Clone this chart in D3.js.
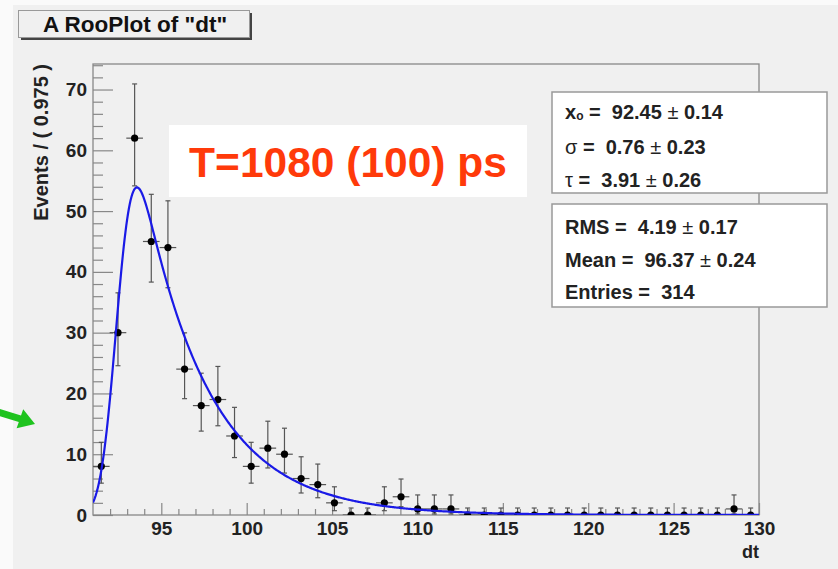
<!DOCTYPE html>
<html><head><meta charset="utf-8">
<script src="https://cdn.jsdelivr.net/npm/d3@7"></script>
<style>
body{margin:0;background:#fafafa;}
svg{display:block;font-family:"Liberation Sans",Arial,Helvetica,sans-serif;}
text{white-space:pre;}
</style>
</head><body>
<svg id="c" width="838" height="569"></svg>
<script>
// ---- data ----
const binCenters = [91.4875,92.4625,93.4375,94.4125,95.3875,96.3625,97.3375,98.3125,99.2875,100.2625,
  101.2375,102.2125,103.1875,104.1625,105.1375,106.1125,107.0875,108.0625,109.0375,110.0125,
  110.9875,111.9625,112.9375,113.9125,114.8875,115.8625,116.8375,117.8125,118.7875,119.7625,
  120.7375,121.7125,122.6875,123.6625,124.6375,125.6125,126.5875,127.5625,128.5375,129.5125];
const counts = [8,30,62,45,44,24,18,19,13,8,11,10,6,5,2,0,0,2,3,1,1,1,0,0,0,0,0,0,0,0,0,0,0,0,0,0,0,0,1,0];
const errLo = [2.76,5.44,7.85,6.68,6.61,4.86,4.20,4.32,3.55,2.76,3.26,3.10,2.38,2.16,1.29,0,0,1.29,1.63,0.83,0.83,0.83,0,0,0,0,0,0,0,0,0,0,0,0,0,0,0,0,0.83,0];
const errHi = [3.96,6.55,8.92,7.76,7.69,5.97,5.33,5.44,4.71,3.96,4.43,4.28,3.58,3.38,2.64,1.15,1.15,2.64,2.92,2.30,2.30,2.30,1.15,1.15,1.15,1.15,1.15,1.15,1.15,1.15,1.15,1.15,1.15,1.15,1.15,1.15,1.15,1.15,2.30,1.15];
const binWidth = 0.975;
const xRange = [91, 130];
const yRange = [0, 74.2];
const xTickValues = [95,100,105,110,115,120,125,130];
const yTickValues = [0,10,20,30,40,50,60,70];
// fit parameters (Gaussian (x) decay model)
const fitNames = ["x0","sigma","tau"];
const fitValues = [92.45, 0.76, 3.91];
const fitErrors = [0.14, 0.23, 0.26];
const nEntries = 314;
const statLabels = ["RMS","Mean","Entries"];
const statValues = ["4.19","96.37","314"];
const statErrors = ["0.17","0.24",null];
const titleText = 'A RooPlot of "dt"';
const xTitle = "dt";
const yTitle = "Events / ( 0.975 )";
const noteText = "T=1080 (100) ps";

// ---- drawing ----
const svg = d3.select("#c");
const W = 838, H = 569;
const F = {l:93, r:759, t:64, b:515};
const x = d3.scaleLinear().domain(xRange).range([F.l, F.r]);
const y = d3.scaleLinear().domain(yRange).range([F.b, F.t]);

svg.append("rect").attr("x",13).attr("y",5).attr("width",W-13).attr("height",H-5).attr("fill","#f0f0f0");

// decorative green arrow (from the original slide)
svg.append("path")
  .attr("d","M-0.9,408.7 L21,415.5 L23.2,409.3 L35,424 L16.6,428.3 L18.8,422.1 L-3.1,415.3 Z")
  .attr("fill","#1ec31e");

// title box
svg.append("rect").attr("x",21).attr("y",13).attr("width",231).attr("height",27).attr("fill","#444");
svg.append("rect").attr("x",18.5).attr("y",10.5).attr("width",231).attr("height",27)
  .attr("fill","#f0f0f0").attr("stroke","#999").attr("stroke-width",1);
svg.append("text").attr("x",135).attr("y",24.5).attr("text-anchor","middle")
  .attr("dominant-baseline","central").attr("font-size",22.5).attr("font-weight","bold")
  .attr("fill","#111").text(titleText);

// axes ticks
const tickCol = "#888";
const yMinor = d3.range(0, 74.2, 2).filter(v => v % 10 !== 0);
const xMinor = d3.range(92, 130, 1).filter(v => v % 5 !== 0);

const gy = svg.append("g").attr("transform",`translate(${F.l},0)`)
  .call(d3.axisLeft(y).tickValues(yTickValues).tickSize(-20).tickSizeOuter(0).tickPadding(6).tickFormat(d3.format("d")));
const gym = svg.append("g").attr("transform",`translate(${F.l},0)`)
  .call(d3.axisLeft(y).tickValues(yMinor).tickSize(-10).tickSizeOuter(0).tickFormat(""));
const gx = svg.append("g").attr("transform",`translate(0,${F.b})`)
  .call(d3.axisBottom(x).tickValues(xTickValues).tickSize(-12).tickSizeOuter(0).tickPadding(7).tickFormat(d3.format("d")));
const gxm = svg.append("g").attr("transform",`translate(0,${F.b})`)
  .call(d3.axisBottom(x).tickValues(xMinor).tickSize(-6).tickSizeOuter(0).tickFormat(""));
[gy,gym,gx,gxm].forEach(g => {
  g.select(".domain").remove();
  g.selectAll("line").attr("stroke",tickCol).attr("stroke-width",1.2);
  g.selectAll("text").attr("font-size",19).attr("font-weight","bold").attr("fill","#222")
    .attr("font-family",'"Liberation Sans",Arial,sans-serif');
});

// frame
svg.append("rect").attr("x",F.l).attr("y",F.t).attr("width",F.r-F.l).attr("height",F.b-F.t)
  .attr("fill","none").attr("stroke","#888").attr("stroke-width",1.3);

// axis titles
svg.append("text").attr("x",F.r).attr("y",558).attr("text-anchor","end")
  .attr("font-size",18).attr("font-weight","bold").attr("fill","#222").text(xTitle);
svg.append("text").attr("transform",`translate(41,${F.t}) rotate(-90)`).attr("text-anchor","end")
  .attr("dominant-baseline","central")
  .attr("font-size",20).attr("font-weight","bold").attr("fill","#222").text(yTitle);

// clip
svg.append("clipPath").attr("id","fr").append("rect")
  .attr("x",F.l).attr("y",F.t).attr("width",F.r-F.l).attr("height",F.b-F.t);

// data points
const data = counts.map((c,i) => ({x:binCenters[i], n:c, lo:errLo[i], hi:errHi[i]}));
const gp = svg.append("g").attr("clip-path","url(#fr)");
const eb = gp.selectAll("g.pt").data(data).join("g").attr("class","pt");
eb.append("line").attr("x1",d=>x(d.x)).attr("x2",d=>x(d.x))
  .attr("y1",d=>y(d.n-d.lo)).attr("y2",d=>y(d.n+d.hi)).attr("stroke","#555").attr("stroke-width",1.2);
eb.append("line").attr("x1",d=>x(d.x-binWidth/2)).attr("x2",d=>x(d.x+binWidth/2))
  .attr("y1",d=>y(d.n)).attr("y2",d=>y(d.n)).attr("stroke","#555").attr("stroke-width",1.2);
eb.append("line").attr("x1",d=>x(d.x)-2.5).attr("x2",d=>x(d.x)+2.5)
  .attr("y1",d=>y(d.n+d.hi)).attr("y2",d=>y(d.n+d.hi)).attr("stroke","#555").attr("stroke-width",1.2);
eb.filter(d=>d.lo>0).append("line").attr("x1",d=>x(d.x)-2.5).attr("x2",d=>x(d.x)+2.5)
  .attr("y1",d=>y(d.n-d.lo)).attr("y2",d=>y(d.n-d.lo)).attr("stroke","#555").attr("stroke-width",1.2);
eb.append("circle").attr("cx",d=>x(d.x)).attr("cy",d=>y(d.n)).attr("r",3.6).attr("fill","#000");

// fit curve
function erfc(z){
  const zz = Math.abs(z);
  const t = 1/(1+0.3275911*zz);
  const p = t*(0.254829592+t*(-0.284496736+t*(1.421413741+t*(-1.453152027+t*1.061405429))));
  const r = p*Math.exp(-zz*zz);
  return z >= 0 ? r : 2 - r;
}
const [x0, sig, tau] = fitValues;
function model(v){
  const t = v - x0;
  return nEntries*binWidth/(2*tau)*Math.exp(sig*sig/(2*tau*tau) - t/tau)*erfc((sig/tau - t/sig)/Math.SQRT2);
}
const xs = d3.range(xRange[0], xRange[1]+0.001, 0.05);
svg.append("path").attr("clip-path","url(#fr)")
  .attr("d", d3.line().x(v=>x(v)).y(v=>y(model(v)))(xs))
  .attr("fill","none").attr("stroke","#1a1ae6").attr("stroke-width",2.2);

// red note
svg.append("rect").attr("x",169).attr("y",125).attr("width",358).attr("height",72).attr("fill","#fff");
svg.append("text").attr("x",348).attr("y",162).attr("text-anchor","middle").attr("dominant-baseline","central")
  .attr("font-size",42.5).attr("font-weight","bold").attr("fill","#ff3a0a").text(noteText);

// stats boxes
function box(y0,h){
  svg.append("rect").attr("x",552).attr("y",y0).attr("width",275).attr("height",h)
    .attr("fill","#fff").attr("stroke","#999").attr("stroke-width",1.5);
}
box(92,101); box(204,103);
const tx = 565;
const fs = 20;
function line(yc){
  return svg.append("text").attr("x",tx).attr("y",yc).attr("dominant-baseline","central")
    .attr("font-size",fs).attr("font-weight","bold").attr("fill","#222");
}
// x_o
let t1 = line(112);
t1.append("tspan").text("x");
t1.append("tspan").attr("font-size",12).attr("dy",4).text("o");
t1.append("tspan").attr("dy",-4).text(" =  " + fitValues[0].toFixed(2) + " ");
t1.append("tspan").attr("font-weight","normal").text("±");
t1.append("tspan").text(" " + fitErrors[0].toFixed(2));
let t2 = line(147);
t2.append("tspan").attr("font-weight","normal").text("σ");
t2.append("tspan").text(" =  " + fitValues[1].toFixed(2) + " ");
t2.append("tspan").attr("font-weight","normal").text("±");
t2.append("tspan").text(" " + fitErrors[1].toFixed(2));
let t3 = line(180);
t3.append("tspan").attr("font-weight","normal").text("τ");
t3.append("tspan").text(" =  " + fitValues[2].toFixed(2) + " ");
t3.append("tspan").attr("font-weight","normal").text("±");
t3.append("tspan").text(" " + fitErrors[2].toFixed(2));
const statY = [227, 260, 292];
statLabels.forEach((lab,i) => {
  const t = line(statY[i]);
  t.append("tspan").text(lab + " =  " + statValues[i] + (statErrors[i] ? " " : ""));
  if (statErrors[i]) {
    t.append("tspan").attr("font-weight","normal").text("±");
    t.append("tspan").text(" " + statErrors[i]);
  }
});
</script>
</body></html>
